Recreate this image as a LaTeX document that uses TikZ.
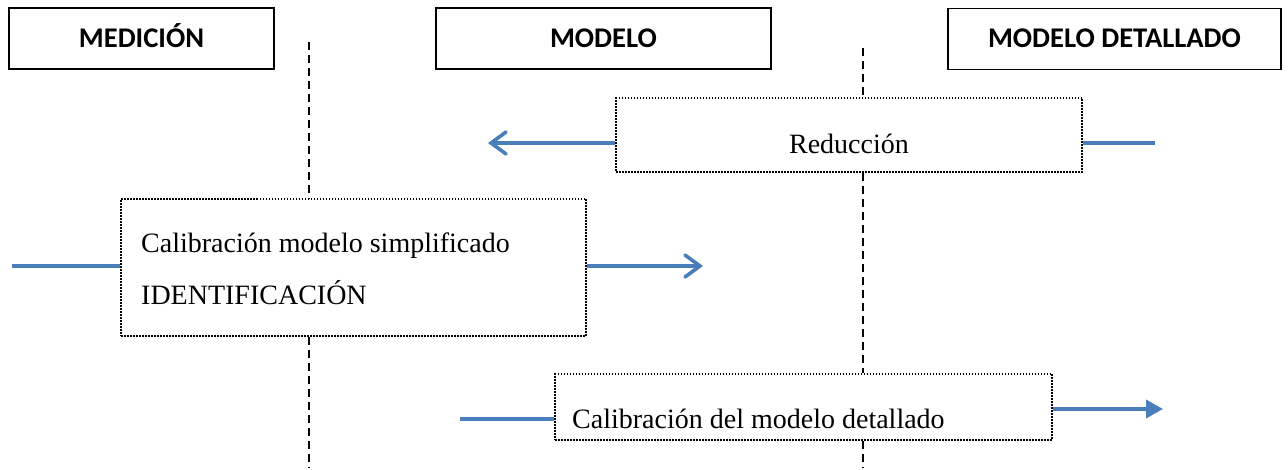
\documentclass[tikz,border=0pt]{standalone}
\usepackage{fontspec}
\setmainfont{Liberation Serif}
\newfontfamily\headfont{Carlito}
\usetikzlibrary{arrows.meta}
\definecolor{arrowblue}{RGB}{74,126,187}
\tikzset{
  headbox/.style={draw=black, line width=1.4pt, inner sep=0pt, font=\headfont\bfseries\fontsize{28.5}{30}\selectfont, text height=18pt, text depth=0pt},
  dotbox/.style={draw=black, line width=1.6pt, dash pattern=on 1.5pt off 1.5pt, inner sep=0pt},
  boxtext/.style={font=\fontsize{28}{30}\selectfont, inner sep=0pt},
  sepline/.style={draw=black, line width=1.8pt, dash pattern=on 8pt off 5pt},
  flow/.style={draw=arrowblue, line width=3.6pt},
  openhead/.style={flow, -{Straight Barb[length=15pt,width=22pt,line cap=round]}},
  fullhead/.style={flow, -{Triangle[length=17pt,width=18pt]}}
}
\begin{document}
\begin{tikzpicture}[x=1pt, y=-1pt]
\useasboundingbox (0,0) rectangle (1288,470);

% header boxes
\node[headbox, minimum width=265pt, minimum height=61pt] (hmed) at (141.5,38.5) {MEDICIÓN};
\node[headbox, minimum width=335pt, minimum height=61pt] (hmod) at (603.5,38.5) {MODELO};
\node[headbox, minimum width=333pt, minimum height=61pt] (hdet) at (1114.5,39) {MODELO DETALLADO};

% process boxes
\node[dotbox, minimum width=466pt, minimum height=74pt] (red) at (849,135) {};
\node[boxtext, anchor=base] (redt) at (849,154) {Reducción};

\node[dotbox, minimum width=465pt, minimum height=137pt] (cms) at (353.5,267.5) {};
\node[boxtext, anchor=base west] (cmst1) at (141,253) {Calibración modelo simplificado};
\node[boxtext, anchor=base west] (cmst2) at (141,305) {IDENTIFICACIÓN};

\node[dotbox, minimum width=497pt, minimum height=66pt] (cdet) at (803.5,407) {};
\node[boxtext, anchor=base west] (cdett) at (572,428) {Calibración del modelo detallado};

% separator lines
\coordinate (l1) at (309,42);
\coordinate (l2) at (309,468);
\coordinate (r1) at (863,48);
\coordinate (r2) at (863,468);
\draw[sepline] (l1) -- (l1 |- cms.north);
\draw[sepline] (l1 |- cms.south) -- (l2);
\draw[sepline] (r1) -- (r1 |- red.north);
\draw[sepline] (r1 |- red.south) -- (r1 |- cdet.north);
\draw[sepline] (r1 |- cdet.south) -- (r2);

% flows
\coordinate (f1) at (488,143);
\coordinate (f2) at (1155,143);
\coordinate (f3) at (12,266);
\coordinate (f4) at (703,266);
\coordinate (f5) at (460,419);
\coordinate (f6) at (1163,409);
\draw[openhead] (f1 -| red.west) -- (f1);
\draw[flow] (f2 -| red.east) -- (f2);
\draw[flow] (f3) -- (f3 -| cms.west);
\draw[openhead] (f4 -| cms.east) -- (f4);
\draw[flow] (f5) -- (f5 -| cdet.west);
\draw[fullhead] (f6 -| cdet.east) -- (f6);
\end{tikzpicture}
\end{document}
